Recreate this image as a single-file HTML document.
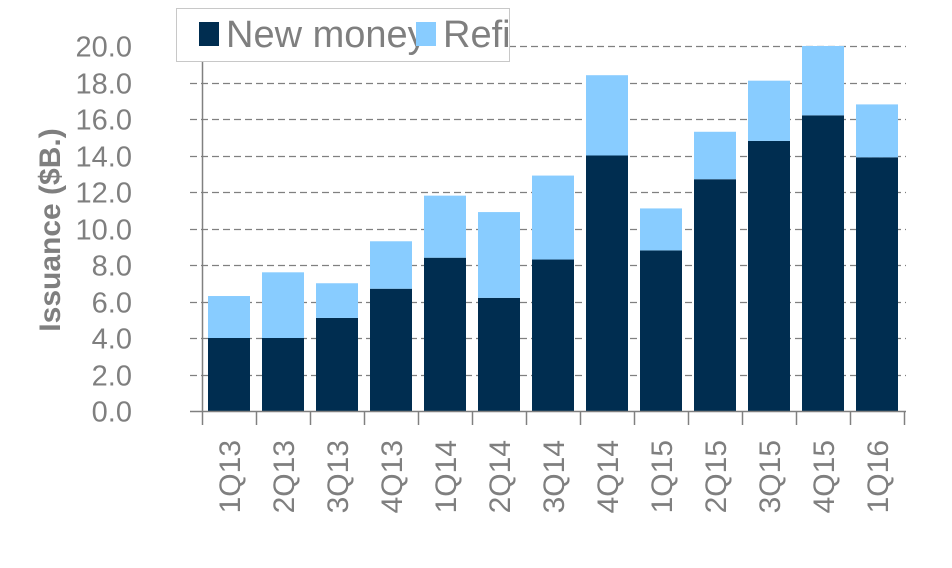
<!DOCTYPE html>
<html><head><meta charset="utf-8"><style>
body{margin:0;background:#fff;}
svg text{font-family:"Liberation Sans Narrow","Liberation Sans",sans-serif;fill:#7f7f7f;}
</style></head><body>
<svg width="952" height="563" viewBox="0 0 952 563" xmlns="http://www.w3.org/2000/svg">
<g id="grid"></g>
<g id="bars"></g>
<g id="axes"></g>
<text transform="translate(60,230) rotate(-90)" text-anchor="middle" font-size="30" font-weight="bold" style="font-family:'Liberation Sans',sans-serif">Issuance ($B.)</text>
<g>
<rect x="176.5" y="8.5" width="333" height="53" fill="#fff" stroke="#c8c8c8"/>
<rect x="199" y="22" width="20" height="24" fill="#002d50"/>
<text x="226" y="47" font-size="38">New money</text>
<rect x="416" y="22" width="20" height="24" fill="#88ccff"/>
<text x="443" y="47" font-size="38">Refi</text>
</g>
</svg>
<script>
const categories=["1Q13","2Q13","3Q13","4Q13","1Q14","2Q14","3Q14","4Q14","1Q15","2Q15","3Q15","4Q15","1Q16"];
const newMoney=[4.0,4.0,5.1,6.7,8.4,6.2,8.3,14.0,8.8,12.7,14.8,16.2,13.9];
const refi=[2.3,3.6,1.9,2.6,3.4,4.7,4.6,4.4,2.3,2.6,3.3,3.8,2.9];
const yTicks=["0.0","2.0","4.0","6.0","8.0","10.0","12.0","14.0","16.0","18.0","20.0"];
const NS="http://www.w3.org/2000/svg";
const x0=202,x1=904,yBase=411,yTop=46,yMax=20;
const band=(x1-x0)/categories.length;
function y(v){return yBase-(v/yMax)*(yBase-yTop);}
function xb(i){return x0+i*band;}
function mk(t,a,p){const e=document.createElementNS(NS,t);for(const k in a)e.setAttribute(k,a[k]);p.appendChild(e);return e;}
const grid=document.getElementById('grid'),bars=document.getElementById('bars'),axes=document.getElementById('axes');
yTicks.forEach((t,i)=>{const v=parseFloat(t),yy=Math.round(y(v))+0.5;
 if(v>0){const l=mk('line',{x1:190,x2:x1+2,y1:yy,y2:yy,stroke:'#808080','stroke-width':1.3,'stroke-dasharray':'7,4'},grid);
 
 }
 const tx=mk('text',{x:132,y:yy+10,'text-anchor':'end','font-size':29},axes);tx.textContent=t;
 
 
});
categories.forEach((c,i)=>{const bx=xb(i)+6,bw=band-12;
 const b1=mk('rect',{x:bx,y:y(newMoney[i]),width:bw,height:yBase-y(newMoney[i]),fill:'#002d50'},bars);
 
 
 const b2=mk('rect',{x:bx,y:y(newMoney[i]+refi[i]),width:bw,height:y(newMoney[i])-y(newMoney[i]+refi[i]),fill:'#88ccff'},bars);
 
 
 const cx=xb(i)+band/2+11;
 const t=mk('text',{transform:`translate(${cx},440) rotate(-90)`,'text-anchor':'end','font-size':30},axes);t.textContent=c;
 
 
});
for(let i=0;i<=categories.length;i++){const xx=Math.round(xb(i))+0.5;
 const l=mk('line',{x1:xx,x2:xx,y1:yBase,y2:425,stroke:'#808080','stroke-width':1.5},axes);
 
 }
const ax=mk('line',{x1:x0+0.5,x2:x0+0.5,y1:yTop,y2:yBase,stroke:'#808080','stroke-width':1.5},axes);


const bl=mk('line',{x1:190,x2:x1+2,y1:yBase+0.5,y2:yBase+0.5,stroke:'#808080','stroke-width':1.5},axes);


</script>
</body></html>
